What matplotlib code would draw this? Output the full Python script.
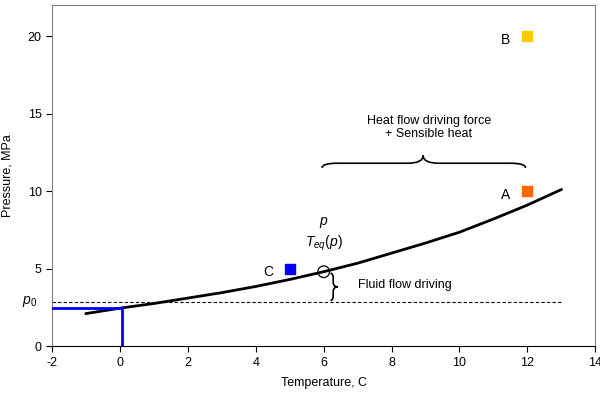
import matplotlib
matplotlib.use("Agg")
from matplotlib import pyplot as plt
from matplotlib.path import Path
from matplotlib.patches import PathPatch

plt.rcParams['font.family'] = ['Liberation Sans', 'DejaVu Sans']
plt.rcParams['axes.unicode_minus'] = False
plt.rcParams['mathtext.fontset'] = 'custom'
plt.rcParams['mathtext.rm'] = 'Liberation Sans'
plt.rcParams['mathtext.it'] = 'Liberation Sans:italic'

# equilibrium curve
curve_t = [-1, 0, 1, 2, 3, 4, 5, 6, 7, 8, 9, 10, 11, 12, 13]
curve_p = [2.1, 2.45, 2.75, 3.1, 3.45, 3.85, 4.3, 4.8, 5.35, 6.0, 6.65, 7.35, 8.2, 9.1, 10.1]

# states
labels = ['C', 'A', 'B']
state_t = [5, 12, 12]
state_p = [5, 10, 20]
state_colors = ['#0000FF', '#FF6600', '#FFCC00']

p0 = 2.85
t_eq, p_eq = 6, 4.8
t_start, p_start = 0.05, 2.45

fig, ax = plt.subplots(figsize=(6, 3.96), dpi=100)
fig.subplots_adjust(left=0.087, right=0.992, top=0.987, bottom=0.126)

ax.plot(curve_t, curve_p, color='black', lw=2, zorder=3)
ax.plot([-2, 13], [p0, p0], color='black', lw=0.8, ls=(0, (3, 2)))
ax.plot([-2, t_start, t_start], [p_start, p_start, 0], color='#0000FF', lw=2, zorder=4)

for lab, t, p, c in zip(labels, state_t, state_p, state_colors):
    ax.scatter(t, p, marker='s', s=50, color=c, zorder=5)
    ax.text(t - 0.5, p - 0.25, lab, fontsize=10, ha='right', va='center')

ax.scatter(t_eq, p_eq, s=70, facecolor='none', edgecolor='black', lw=0.9, zorder=5)
ax.text(t_eq, 7.95, r'$p$', fontsize=10, ha='center', va='center')
ax.text(t_eq, 6.6, r'$T_{eq}(p)$', fontsize=10, ha='center', va='center')

# horizontal brace from T_eq to A
x0, x1 = t_eq - 0.05, state_t[1] - 0.05
xm = 8.93
yb, ym, yt = 11.5, 11.8, 12.3
d = 0.45
verts = [(x0, yb), (x0, ym), (x0 + d, ym), (xm - d, ym), (xm, ym), (xm, yt),
         (xm, ym), (xm + d, ym), (x1 - d, ym), (x1, ym), (x1, yb)]
codes = [Path.MOVETO, Path.CURVE3, Path.CURVE3, Path.LINETO, Path.CURVE3, Path.CURVE3,
         Path.CURVE3, Path.CURVE3, Path.LINETO, Path.CURVE3, Path.CURVE3]
ax.add_patch(PathPatch(Path(verts, codes), fill=False, lw=1.2, color='black'))
ax.text(9.1, 14.1, 'Heat flow driving force\n+ Sensible heat', fontsize=9,
        ha='center', va='center', linespacing=1.2)

# small vertical brace from p0 to p
bx, bm, bt = 6.2, 6.28, 6.42
y0, y1 = p0 + 0.1, 4.7
ymid = (y0 + y1) / 2
e = 0.3
verts = [(bx, y1), (bm, y1), (bm, y1 - e), (bm, ymid + e), (bm, ymid), (bt, ymid),
         (bm, ymid), (bm, ymid - e), (bm, y0 + e), (bm, y0), (bx, y0)]
ax.add_patch(PathPatch(Path(verts, codes), fill=False, lw=1.2, color='black'))
ax.text(7.0, 3.95, 'Fluid flow driving', fontsize=9, ha='left', va='center')

ax.text(-2.45, p0, r'$p_0$', fontsize=10, ha='right', va='center')

ax.set_xlim(-2, 14)
ax.set_ylim(0, 22)
ax.set_xticks(range(-2, 15, 2))
ax.set_yticks([0, 5, 10, 15, 20])
ax.tick_params(labelsize=9, length=4, width=0.8, colors='black')
for s in ['top', 'right', 'left']:
    ax.spines[s].set_color('#808080')
ax.spines['bottom'].set_color('black')
ax.set_xlabel('Temperature, C', fontsize=9, labelpad=6)
ax.set_ylabel('Pressure, MPa', fontsize=9, labelpad=10)

plt.savefig('out.png')
